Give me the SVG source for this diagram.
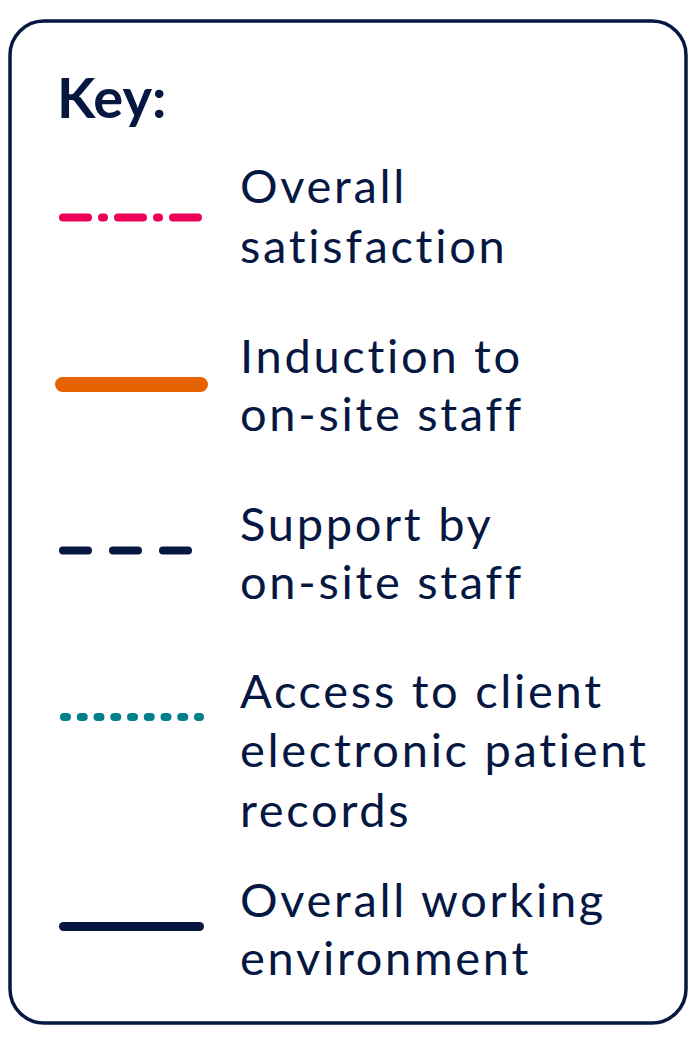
<svg xmlns="http://www.w3.org/2000/svg" width="696" height="1038" viewBox="0 0 696 1038">
<style>
.t{font-family:Lato,"Noto Sans","Liberation Sans",sans-serif;font-size:47px;fill:#061842;letter-spacing:2.7px}
.k{font-family:Lato,"Noto Sans","Liberation Sans",sans-serif;font-size:56px;font-weight:bold;fill:#061842}
.ln{fill:none;stroke-linecap:round}
</style>
<rect x="0" y="0" width="696" height="1038" fill="#ffffff"/>
<g id="frame"><rect x="10" y="21" width="676" height="1002" rx="34" ry="34" fill="#ffffff" stroke="#061842" stroke-width="3.5"/></g>
<text id="title" class="k" x="57" y="118">Key:</text>
<g id="connectors">
<line class="ln" x1="63" y1="217.5" x2="199" y2="217.5" stroke="#ee0058" stroke-width="8" stroke-dasharray="25 14 2 14"/>
<line class="ln" x1="62.5" y1="384.5" x2="200.5" y2="384.5" stroke="#e66100" stroke-width="15"/>
<line class="ln" x1="63" y1="550.5" x2="188" y2="550.5" stroke="#061842" stroke-width="8" stroke-dasharray="25 25"/>
<line class="ln" x1="64" y1="717" x2="200" y2="717" stroke="#00808a" stroke-width="8" stroke-dasharray="3 13.75"/>
<line class="ln" x1="63.5" y1="926.5" x2="199.5" y2="926.5" stroke="#061842" stroke-width="9"/>
</g>
<g id="item-overall-satisfaction"><text class="t" x="240" y="203">Overall</text><text class="t" x="240" y="263">satisfaction</text></g>
<g id="item-induction"><text class="t" x="240" y="373">Induction to</text><text class="t" x="240" y="431">on-site staff</text></g>
<g id="item-support"><text class="t" x="240" y="541">Support by</text><text class="t" x="240" y="599">on-site staff</text></g>
<g id="item-access"><text class="t" x="240" y="708">Access to client</text><text class="t" x="240" y="767">electronic patient</text><text class="t" x="240" y="827">records</text></g>
<g id="item-working-environment"><text class="t" x="240" y="917">Overall working</text><text class="t" x="240" y="975">environment</text></g>
</svg>
